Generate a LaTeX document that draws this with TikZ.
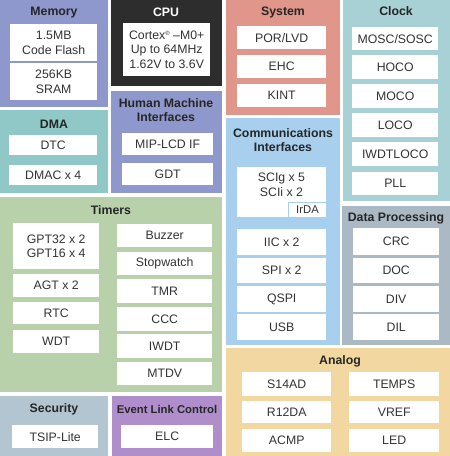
\documentclass[tikz,border=0pt]{standalone}
\usepackage{fontspec}
\setmainfont{Liberation Sans}
\definecolor{memc}{HTML}{8F98CC}
\definecolor{cpuc}{HTML}{2D2D2D}
\definecolor{dmac}{HTML}{90C8C8}
\definecolor{sysc}{HTML}{E0968A}
\definecolor{clkc}{HTML}{A7D1D5}
\definecolor{comc}{HTML}{A8D0EE}
\definecolor{dpc}{HTML}{AAB9C4}
\definecolor{timc}{HTML}{B8D1AA}
\definecolor{anac}{HTML}{F2D8A0}
\definecolor{secc}{HTML}{B2C5D1}
\definecolor{elcc}{HTML}{B08ECB}
\definecolor{txtc}{HTML}{333333}
\newcommand{\bx}[7]{\node[#6, anchor=north west, inner sep=0pt,
  minimum width={(#4-#2)*1pt}, minimum height={(#5-#3)*1pt}] (#1) at (#2,#3) {#7};}
\tikzset{
  panel/.style={fill=#1, draw=none},
  cell/.style={fill=white, draw=none, text=txtc, align=center,
    font=\fontsize{12.3}{14.5}\selectfont},
  ttl/.style={inner sep=0pt, text=black!85, align=center,
    font=\fontsize{12.3}{14.5}\selectfont\bfseries}
}
\begin{document}
\begin{tikzpicture}[x=1pt,y=-1pt]
\useasboundingbox (0,0) rectangle (450,456);
% Memory
\bx{mem}{0}{0}{108}{107}{panel=memc}{}
\node[ttl] (memt) at (54,13) {Memory};
\bx{flash}{10}{24}{97}{61}{cell}{1.5MB\\Code Flash}
\bx{sram}{10}{63}{97}{100}{cell}{256KB\\SRAM}
% CPU
\bx{cpu}{111}{0}{222}{86}{panel=cpuc}{}
\node[ttl, text=white] (cput) at (166,12) {CPU};
\bx{core}{123}{23}{210}{76}{cell}{Cortex{\fontsize{6}{6}\selectfont\raisebox{4pt}{®}} –M0+\\Up to 64MHz\\1.62V to 3.6V}
% DMA
\bx{dma}{0}{110}{108}{193}{panel=dmac}{}
\node[ttl] (dmat) at (54,124) {DMA};
\bx{dtc}{9}{135}{97}{155}{cell}{DTC}
\bx{dmac4}{9}{165}{97}{185}{cell}{DMAC x 4}
% HMI
\bx{hmi}{111}{91}{222}{193}{panel=memc}{}
\node[ttl] (hmit) at (166,110) {Human Machine\\Interfaces};
\bx{mip}{122}{133}{213}{155}{cell}{MIP-LCD IF}
\bx{gdt}{122}{163}{213}{185}{cell}{GDT}
% System
\bx{sys}{226}{0}{340}{115}{panel=sysc}{}
\node[ttl] (syst) at (283,12) {System};
\bx{por}{237}{26}{326}{49}{cell}{POR/LVD}
\bx{ehc}{237}{55}{326}{78}{cell}{EHC}
\bx{kint}{237}{84}{326}{107}{cell}{KINT}
% Clock
\bx{clk}{343}{0}{450}{201}{panel=clkc}{}
\node[ttl] (clkt) at (396,11) {Clock};
\bx{mosc}{352}{27}{438}{50}{cell}{MOSC/SOSC}
\bx{hoco}{352}{55}{438}{79}{cell}{HOCO}
\bx{moco}{352}{84}{438}{108}{cell}{MOCO}
\bx{loco}{352}{113}{438}{137}{cell}{LOCO}
\bx{iwdtloco}{352}{142}{438}{166}{cell}{IWDTLOCO}
\bx{pll}{352}{172}{438}{195}{cell}{PLL}
% Communications
\bx{com}{226}{118}{340}{345}{panel=comc}{}
\node[ttl] (comt) at (283,140) {Communications\\Interfaces};
\bx{sci}{237}{167}{326}{217}{cell}{}
\node[cell, fill=none, inner sep=0pt] (scit) at (281.5,185) {SCIg x 5\\SCIi x 2};
\bx{irda}{288}{202}{326}{217}{cell, draw=comc, line width=1pt, font=\fontsize{11.3}{13}\selectfont}{IrDA}
\bx{iic}{237}{229}{326}{255}{cell}{IIC x 2}
\bx{spi}{237}{258}{326}{283}{cell}{SPI x 2}
\bx{qspi}{237}{286}{326}{312}{cell}{QSPI}
\bx{usb}{237}{314}{326}{340}{cell}{USB}
% Data processing
\bx{dp}{342}{206}{450}{345}{panel=dpc}{}
\node[ttl] (dpt) at (396,218) {Data Processing};
\bx{crc}{353}{228}{439}{255}{cell}{CRC}
\bx{doc}{353}{258}{439}{283}{cell}{DOC}
\bx{div}{353}{286}{439}{312}{cell}{DIV}
\bx{dil}{353}{314}{439}{340}{cell}{DIL}
% Timers
\bx{tim}{0}{197}{222}{392}{panel=timc}{}
\node[ttl] (timt) at (111,210) {Timers};
\bx{gpt}{13}{223}{99}{269}{cell}{GPT32 x 2\\GPT16 x 4}
\bx{agt}{13}{274}{99}{297}{cell}{AGT x 2}
\bx{rtc}{13}{302}{99}{324}{cell}{RTC}
\bx{wdt}{13}{330}{99}{353}{cell}{WDT}
\bx{buz}{117}{224}{212}{247}{cell}{Buzzer}
\bx{stop}{117}{252}{212}{275}{cell}{Stopwatch}
\bx{tmr}{117}{279}{212}{303}{cell}{TMR}
\bx{ccc}{117}{307}{212}{331}{cell}{CCC}
\bx{iwdt}{117}{334}{212}{358}{cell}{IWDT}
\bx{mtdv}{117}{362}{212}{385}{cell}{MTDV}
% Analog
\bx{ana}{226}{348}{450}{456}{panel=anac}{}
\node[ttl] (anat) at (340,361) {Analog};
\bx{s14ad}{242}{372}{331}{396}{cell}{S14AD}
\bx{temps}{349}{372}{439}{396}{cell}{TEMPS}
\bx{r12da}{242}{401}{331}{423}{cell}{R12DA}
\bx{vref}{349}{401}{439}{423}{cell}{VREF}
\bx{acmp}{242}{429}{331}{452}{cell}{ACMP}
\bx{led}{349}{429}{439}{452}{cell}{LED}
% Security
\bx{sec}{0}{396}{108}{456}{panel=secc}{}
\node[ttl] (sect) at (54,409) {Security};
\bx{tsip}{12}{425}{98}{448}{cell}{TSIP-Lite}
% Event Link Control
\bx{elcp}{112}{396}{222}{456}{panel=elcc}{}
\node[ttl, font=\fontsize{11.3}{13}\selectfont\bfseries] (elct) at (167,409) {Event Link Control};
\bx{elc}{121}{425}{213}{448}{cell}{ELC}
\end{tikzpicture}
\end{document}
